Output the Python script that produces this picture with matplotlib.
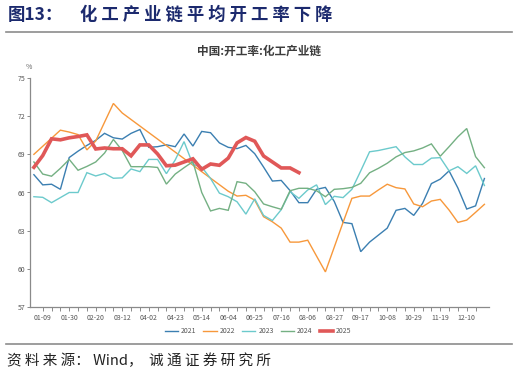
import numpy as np
import matplotlib
matplotlib.use('Agg')
import matplotlib.pyplot as plt

plt.rcParams['font.family'] = ['Noto Sans CJK SC', 'DejaVu Sans']

nan = np.nan

# 周度数据（按周序号，01-02 起）
week_labels = ['01-09', '01-30', '02-20', '03-12', '04-02', '04-23', '05-14', '06-04', '06-25',
               '07-16', '08-06', '08-27', '09-17', '10-08', '10-29', '11-19', '12-10']

y2021 = [67.4, 66.6, 66.65, 66.25, 68.75, 69.25, 69.7, 70.1, 70.65, 70.3, 70.2, 70.65, 70.95,
         69.55, 69.6, 69.75, 69.6, 70.6, 69.65, 70.8, 70.7, 69.9, 69.55, 69.45, 69.7, 69.05,
         68.0, 66.9, 66.95, 66.15, 65.2, 65.2, 66.25, 66.4, 65.3, 63.65, 63.55, 61.35, 62.1,
         62.65, 63.2, 64.6, 64.75, 64.2, 65.15, 66.7, 67.05, 67.7, 66.35, 64.7, 64.95, 67.1]

y2022 = [69.0, nan, nan, 70.9, 70.75, 70.55, 69.35, 70.05, nan, 73.0, 72.25, nan, nan, nan,
         nan, nan, nan, nan, nan, nan, nan, nan, 66.1, 65.72, 65.78, 65.4, 64.1, 63.7, 63.2,
         62.1, 62.1, 62.25, 61.0, 59.76, 61.7, 63.65, 65.54, 65.72, 65.72, 66.2, 66.65, 66.38,
         66.28, 65.1, 64.88, 65.33, 65.46, 64.62, 63.65, 63.83, 64.44, 65.07]

y2023 = [65.67, 65.62, 65.2, 65.6, 66.0, 66.0, 67.56, 67.3, 67.5, 67.12, 67.15, 67.85, 67.64,
         68.6, 68.6, 67.48, 68.56, 70.0, 68.2, 68.0, 67.1, 65.95, 65.67, 65.27, 64.3, 65.5,
         64.2, 63.8, 64.65, 66.06, 65.54, 66.2, 66.6, 65.05, 65.7, 65.6, 66.25, 67.7, 69.2,
         69.3, 69.45, 69.6, 68.8, 68.2, 68.2, 68.7, 68.74, 67.7, 68.03, 67.5, 68.1, 66.55]

y2024 = [68.4, 67.45, 67.28, 67.9, 68.6, 67.75, 68.05, 68.4, 69.1, 70.17, 69.3, 68.03, 68.03,
         68.03, 67.97, 66.66, 67.45, 67.95, 68.43, 66.0, 64.55, 64.75, 64.6, 66.85, 66.72,
         66.06, 65.1, 64.88, 64.68, 66.14, 66.33, 66.33, 66.14, 65.67, 66.25, 66.3, 66.4,
         66.72, 67.55, 67.9, 68.3, 68.8, 69.14, 69.27, 69.5, 69.82, 68.85, 69.6, 70.38, 71.03,
         68.82, 67.95]

y2025 = [67.98, 68.9, 70.22, 70.14, 70.3, 70.4, 70.53, 69.42, 69.5, 69.44, 69.44, 68.88, 69.74,
         69.74, 69.03, 68.1, 68.15, 68.4, 68.65, 67.82, 68.24, 68.14, 68.7, 69.9, 70.32, 70.03,
         68.87, 68.4, 67.93, 67.93, 67.56]

series = [('2021', y2021, '#3b7fb1', 1.0),
          ('2022', y2022, '#f7983b', 1.0),
          ('2023', y2023, '#6ccacc', 1.0),
          ('2024', y2024, '#74b083', 1.0),
          ('2025', y2025, '#e05858', 2.6)]

fig = plt.figure(figsize=(5.19, 3.74), dpi=100)
fig.patch.set_facecolor('white')

# 标题
fig.text(8 / 519, 1 - 15 / 374, '图13：', fontsize=12.5, fontweight='bold',
         color='#1c2a6e', va='center', ha='left')
fig.text(80 / 519, 1 - 15 / 374, ' '.join('化工产业链平均开工率下降'), fontsize=12.5,
         fontweight='bold', color='#1c2a6e', va='center', ha='left')
fig.add_artist(plt.Line2D([6 / 519, 512 / 519], [1 - 31.5 / 374, 1 - 31.5 / 374],
                          color='#8c8c8c', linewidth=1.2))

# 来源
fig.add_artist(plt.Line2D([6 / 519, 512 / 519], [1 - 343.5 / 374, 1 - 343.5 / 374],
                          color='#8c8c8c', linewidth=1.2))
fig.text(7 / 519, 1 - 361 / 374, '资 料 来 源： Wind，  诚 通 证 券 研 究 所', fontsize=10.5,
         color='#222222', va='center', ha='left')

ax = fig.add_axes([30 / 519, 1 - 307 / 374, 459 / 519, 229 / 374])

x = np.arange(52)
handles = []
for name, vals, color, lw in series:
    y = np.array(vals, dtype=float)
    xx = x[:len(y)]
    m = ~np.isnan(y)
    line, = ax.plot(xx[m], y[m], color=color, linewidth=lw, label=name,
                    solid_joinstyle='miter')
    handles.append(line)

ax.set_xlim(-0.44, 51.52)
ax.set_ylim(57, 75)
ax.set_yticks([57, 60, 63, 66, 69, 72, 75])
ax.set_xticks(range(1, 50, 3))
ax.set_xticklabels(week_labels)
ax.set_xticks(range(1, 51), minor=True)

for s in ['top', 'right']:
    ax.spines[s].set_visible(False)
for s in ['left', 'bottom']:
    ax.spines[s].set_color('#8a8a8a')
    ax.spines[s].set_linewidth(0.9)

ax.tick_params(axis='y', length=2.2, width=0.7, color='#8a8a8a', labelsize=5,
               labelcolor='#555555', pad=1)
ax.tick_params(axis='x', which='both', length=3, width=0.7, color='#8a8a8a',
               labelsize=5, labelcolor='#555555', pad=2)

fig.text(29 / 519, 1 - 67 / 374, '%', fontsize=5, color='#666666', ha='center', va='center')
fig.text(259 / 519, 1 - 51 / 374, '中国:开工率:化工产业链', fontsize=8.4, fontweight='bold',
         color='#3c3c3c', ha='center', va='center')

fig.legend(handles=handles, loc='center', bbox_to_anchor=(258 / 519, 1 - 331 / 374),
           ncol=5, frameon=False, fontsize=5, handlelength=1.9, handletextpad=0.45,
           columnspacing=1.0, labelcolor='#555555')

fig.savefig('out.png', dpi=100)
